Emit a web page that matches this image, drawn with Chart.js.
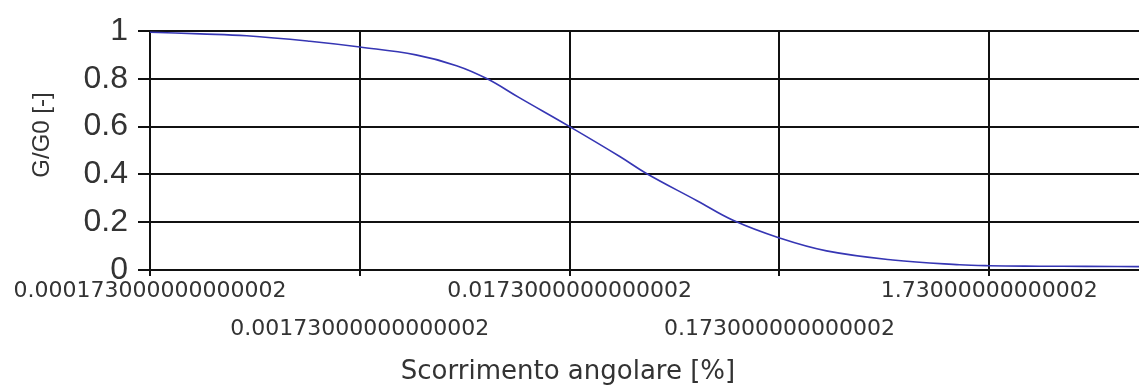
<!doctype html>
<html lang="it">
<head>
    <meta charset="utf-8">
    <title>G/G0 - Scorrimento angolare</title>
    <script src="https://cdn.jsdelivr.net/npm/chart.js@4.4.0/dist/chart.umd.min.js"></script>
</head>
<style>
    body{
        margin: 0;
        background: #fff;
    }
</style>
<body>
    <canvas id="myChart" width="1139" height="388"></canvas>
  <script>
        // data
        let strain = [0.000173, 0.0003, 0.0005, 0.001, 0.00173, 0.0032, 0.005, 0.007, 0.01, 0.0173, 0.03,
                      0.04, 0.07, 0.104, 0.173, 0.29, 0.6, 1.25, 1.73, 3, 5, 10];
        let ratio = [0.995, 0.988, 0.98, 0.957, 0.933, 0.9, 0.855, 0.8, 0.72, 0.6, 0.475,
                     0.405, 0.29, 0.208, 0.134, 0.08, 0.042, 0.022, 0.018, 0.016, 0.015, 0.014];
        let xTicks = [0.000173, 0.00173, 0.0173, 0.173, 1.73];
        let xTickLabels = ["0.000173000000000002", "0.00173000000000002", "0.0173000000000002",
                           "0.173000000000002", "1.73000000000002"];
        let yTicks = [0, 0.2, 0.4, 0.6, 0.8, 1];
        let yTickLabels = ["0", "0.2", "0.4", "0.6", "0.8", "1"];
        let xMin = 0.000173;
        let xMax = 8.95;
        let xTitle = "Scorrimento angolare [%]";
        let yTitle = "G/G0 [-]";

        let titles = {
            id: "titles",
            afterDraw: (chart) => {
                let ctx = chart.ctx;
                ctx.save();
                ctx.fillStyle = "#333";
                ctx.textAlign = "center";
                ctx.textBaseline = "middle";
                ctx.font = "26px 'DejaVu Sans'";
                ctx.fillText(xTitle, 568, 372);
                ctx.translate(42, 135);
                ctx.rotate(-Math.PI / 2);
                ctx.font = "24px 'Liberation Sans'";
                ctx.fillText(yTitle, 0, 0);
                ctx.restore();
            }
        };

        let points = strain.map((x, i) => ({x: x, y: ratio[i]}));

        var myChart = new Chart(document.getElementById("myChart"), {
            type: 'line',
            data: {
                datasets: [{
                    label: "G/G0",
                    data: points,
                    borderColor: '#3636b4',
                    borderWidth: 1.6,
                    pointRadius: 0,
                    tension: 0.4,
                    fill: false
                }]
            },
            options: {
                responsive: false,
                animation: false,
                layout: {padding: {top: 31, right: 0, left: 0, bottom: 0}},
                plugins: {
                    legend: {display: false},
                    tooltip: {enabled: false}
                },
                scales: {
                    x: {
                        type: 'logarithmic',
                        min: xMin,
                        max: xMax,
                        afterBuildTicks: (scale) => {
                            scale.ticks = xTicks.map(v => ({value: v}));
                        },
                        afterFit: (scale) => { scale.height = 118; },
                        grid: {color: '#111', lineWidth: 2, tickLength: 6},
                        border: {color: '#111', width: 2},
                        ticks: {
                            autoSkip: false,
                            maxRotation: 0,
                            padding: -4,
                            color: '#333',
                            font: {family: "'DejaVu Sans'", size: 22, lineHeight: 1.75},
                            callback: (value, index) => index % 2 ? ["", xTickLabels[index]] : xTickLabels[index]
                        }
                    },
                    y: {
                        min: 0,
                        max: 1,
                        afterBuildTicks: (scale) => {
                            scale.ticks = yTicks.map(v => ({value: v}));
                        },
                        afterFit: (scale) => { scale.width = 150; },
                        grid: {color: '#111', lineWidth: 2, tickLength: 12},
                        border: {color: '#111', width: 2},
                        ticks: {
                            padding: 10,
                            color: '#333',
                            font: {family: "'Liberation Sans'", size: 32},
                            callback: (value, index) => yTickLabels[index]
                        }
                    }
                }
            },
            plugins: [titles]
        });
  </script>
</body>
</html>
